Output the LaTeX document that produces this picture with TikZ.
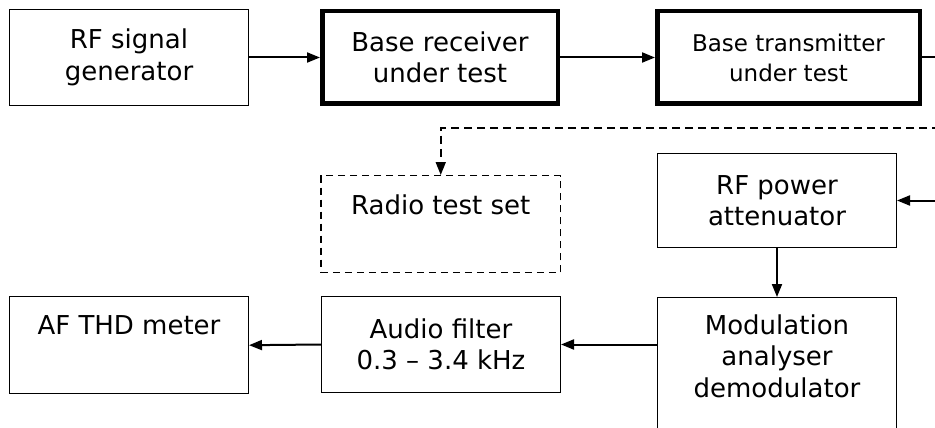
\documentclass[tikz,border=0pt]{standalone}
\usepackage{fontspec}
\setmainfont{DejaVu Sans}
\usetikzlibrary{arrows.meta}
\begin{document}
\begin{tikzpicture}[x=1pt,y=-1pt,
  box/.style={draw, line width=1.4pt, align=center, inner sep=0pt,
    font=\fontsize{26}{31.5}\selectfont},
  thickbox/.style={box, line width=4.5pt},
  dbox/.style={box, dashed, dash pattern=on 7pt off 5pt},
  arr/.style={line width=2pt, -{Triangle[length=13pt,width=10pt]}},
  conn/.style={line width=2pt},
  darr/.style={arr, line width=1.7pt, dash pattern=on 8pt off 5pt}]
\useasboundingbox (0,0) rectangle (935,428);
\clip (0,0) rectangle (935,428);
\node[box, minimum width=238.6pt, minimum height=95.6pt] (gen) at (129,57.5) {RF signal\\generator};
\node[thickbox, minimum width=235.5pt, minimum height=92.5pt] (rx) at (440,57.5) {Base receiver\\under test};
\node[thickbox, minimum width=262.5pt, minimum height=92.5pt, font=\fontsize{23}{30}\selectfont] (tx) at (788.5,57.5) {Base transmitter\\under test};
\node[dbox, anchor=north, minimum width=239.6pt, text height=39pt, text depth=58pt] (radio) at (440.75,175) {Radio test set};
\node[box, minimum width=238.6pt, minimum height=93.6pt] (att) at (777,200.5) {RF power\\attenuator};
\node[box, anchor=north, minimum width=238.6pt, text height=38pt, text depth=59pt] (thd) at (129,296) {AF THD meter};
\node[box, minimum width=238.6pt, minimum height=95.6pt] (filt) at (441,344.5) {Audio filter\\0.3 – 3.4 kHz};
\node[box, anchor=north, minimum width=238.6pt, inner ysep=17pt, text depth=150pt] (mod) at (777,297) {Modulation\\analyser\\demodulator};
\coordinate (txout) at (940,57.5);
\coordinate (dstart) at (940,128);
\coordinate (attin) at (940,200.5);
\draw[arr] (gen) -- (rx);
\draw[arr] (rx) -- (tx);
\draw[conn] (tx.east) -- (txout);
\draw[darr] (dstart) -| (radio.north);
\draw[arr] (attin) -- (att.east);
\draw[arr] (att.south) -- (mod.north);
\draw[arr] (filt.east -| mod.west) -- (filt.east);
\draw[arr] (filt.west) -- (thd.east);
\end{tikzpicture}
\end{document}
